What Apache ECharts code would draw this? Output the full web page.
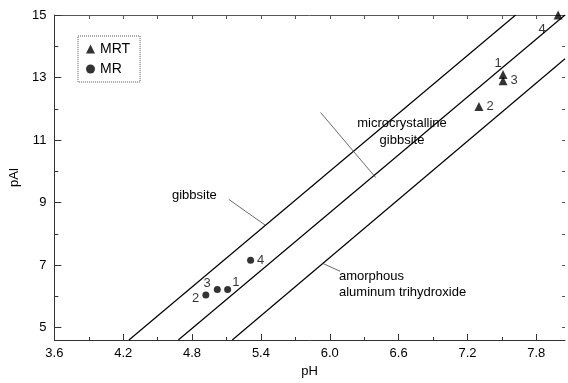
<!doctype html>
<html>
<head>
<meta charset="utf-8">
<title>pAl vs pH</title>
<script src="https://cdn.jsdelivr.net/npm/echarts@6/dist/echarts.min.js"></script>
</head>
<body style="margin:0;background:#fff;">
<div id="container" style="width:568px;height:383px;"></div>
<script type="text/javascript">
// axis ticks
var xMajor = [3.6, 4.2, 4.8, 5.4, 6.0, 6.6, 7.2, 7.8];
var xMinor = [3.9, 4.5, 5.1, 5.7, 6.3, 6.9, 7.5];
var xTop = [3.9, 4.2, 4.5, 4.8, 5.1, 5.4, 5.7, 6.0, 6.3, 6.6, 6.9, 7.2, 7.5, 7.8];
var yMajor = [5, 7, 9, 11, 13, 15];
var yMinor = [6, 8, 10, 12, 14];
var yRight = [5, 6, 7, 8, 9, 10, 11, 12, 13, 14];

// samples: [pH, pAl, label]
var mrt = [[7.51, 13.10, '1'], [7.30, 12.07, '2'], [7.51, 12.90, '3'], [7.99, 15.0, '4']];
var mr = [[5.11, 6.22, '1'], [4.92, 6.04, '2'], [5.02, 6.22, '3'], [5.31, 7.15, '4']];

// solubility lines (end points)
var gibbsite = [[4.25, 4.6], [7.62, 15]];
var microGibbsite = [[4.68, 4.6], [8.05, 15]];
var amorphous = [[5.15, 4.6], [8.05, 13.6]];

// leader lines from the text to the curves
var leaderGibbsite = [[5.12, 9.10], [5.44, 8.27]];
var leaderMicro = [[5.92, 11.88], [6.40, 9.80]];
var leaderAmorph = [[6.09, 6.80], [5.94, 7.05]];

var font = 'Liberation Sans, Arial, sans-serif';

// label placement per point
var labelPlace = {
    MRT: [['top', [-5, 3]], ['right', [0, 0]], ['right', [0, 0]], ['bottom', [-16, 0]]],
    MR: [['right', [-2, -7]], ['left', [0, 3]], ['left', [0, -6]], ['right', [0, 0]]]
};

function pts(arr, name) {
    return arr.map(function (p, i) {
        var lp = labelPlace[name][i];
        return { value: [p[0], p[1]], label: { show: true, formatter: p[2], position: lp[0], offset: lp[1] } };
    });
}

function lineSeries(d, w, c) {
    return {
        type: 'line', data: d, symbol: 'none', silent: true,
        lineStyle: { color: c || '#000', width: w || 1.2 }, z: 1
    };
}

var axisBase = { type: 'value', min: 3.6, max: 8.05, splitLine: { show: false } };
var yBase = { type: 'value', min: 4.6, max: 15, splitLine: { show: false } };

var option = {
    animation: false,
    textStyle: { fontFamily: font },
    grid: { left: 50, right: 3, top: 15, bottom: 39 },
    legend: {
        data: ['MRT', 'MR'],
        orient: 'vertical',
        left: 78, top: 36,
        padding: [6, 10, 6, 8],
        itemWidth: 9, itemHeight: 9, itemGap: 6,
        borderColor: '#555', borderWidth: 1, borderType: 'dotted',
        textStyle: { fontSize: 14, color: '#000', fontFamily: font }
    },
    xAxis: [
        Object.assign({}, axisBase, {
            position: 'bottom', name: 'pH', nameLocation: 'middle', nameGap: 25,
            nameTextStyle: { fontSize: 13, color: '#000' },
            axisLine: { show: true, lineStyle: { color: '#333', width: 1 } },
            axisTick: { show: true, inside: true, length: 6, customValues: xMajor, lineStyle: { color: '#333' } },
            axisLabel: { customValues: xMajor, fontSize: 13, color: '#000', margin: 7, formatter: function (v) { return v.toFixed(1); } }
        }),
        Object.assign({}, axisBase, {
            position: 'bottom',
            axisLine: { show: false },
            axisTick: { show: true, inside: true, length: 3, customValues: xMinor, lineStyle: { color: '#333' } },
            axisLabel: { show: false }
        }),
        Object.assign({}, axisBase, {
            position: 'top',
            axisLine: { show: true, lineStyle: { color: '#555', width: 1 } },
            axisTick: { show: true, inside: true, length: 4, customValues: xTop, lineStyle: { color: '#555' } },
            axisLabel: { show: false }
        })
    ],
    yAxis: [
        Object.assign({}, yBase, {
            position: 'left', name: 'pAl', nameLocation: 'middle', nameGap: 29, nameRotate: 90,
            nameTextStyle: { fontSize: 13, color: '#000' },
            axisLine: { show: true, lineStyle: { color: '#333', width: 1 } },
            axisTick: { show: true, inside: true, length: 7, customValues: yMajor, lineStyle: { color: '#333' } },
            axisLabel: { customValues: yMajor, fontSize: 13, color: '#000', margin: 8 }
        }),
        Object.assign({}, yBase, {
            position: 'left',
            axisLine: { show: false },
            axisTick: { show: true, inside: true, length: 4, customValues: yMinor, lineStyle: { color: '#333' } },
            axisLabel: { show: false }
        }),
        Object.assign({}, yBase, {
            position: 'right',
            axisLine: { show: false },
            axisTick: { show: true, inside: true, length: 3, customValues: yRight, lineStyle: { color: '#555' } },
            axisLabel: { show: false }
        })
    ],
    graphic: [
        { type: 'text', left: 172, top: 189, style: { text: 'gibbsite', font: '13px ' + font, fill: '#000' } },
        { type: 'text', x: 402, y: 115, style: { text: 'microcrystalline\ngibbsite', font: '13px ' + font, fill: '#000', align: 'center', lineHeight: 17 } },
        { type: 'text', x: 339, y: 268, style: { text: 'amorphous\naluminum trihydroxide', font: '13px ' + font, fill: '#000', lineHeight: 16 } }
    ],
    series: [
        lineSeries(gibbsite), lineSeries(microGibbsite), lineSeries(amorphous),
        lineSeries(leaderGibbsite, 0.8, '#444'), lineSeries(leaderMicro, 0.8, '#444'), lineSeries(leaderAmorph, 0.8, '#444'),
        {
            name: 'MRT', type: 'scatter', symbol: 'triangle', symbolSize: 9,
            itemStyle: { color: '#000' }, z: 3,
            label: { fontSize: 13, color: '#000', distance: 3 },
            data: pts(mrt, 'MRT')
        },
        {
            name: 'MR', type: 'scatter', symbol: 'circle', symbolSize: 7,
            itemStyle: { color: '#000' }, z: 3,
            label: { fontSize: 13, color: '#000', distance: 3 },
            data: pts(mr, 'MR')
        }
    ]
};

var myChart = echarts.init(document.getElementById('container'));
myChart.setOption(option);
</script>
</body>
</html>
